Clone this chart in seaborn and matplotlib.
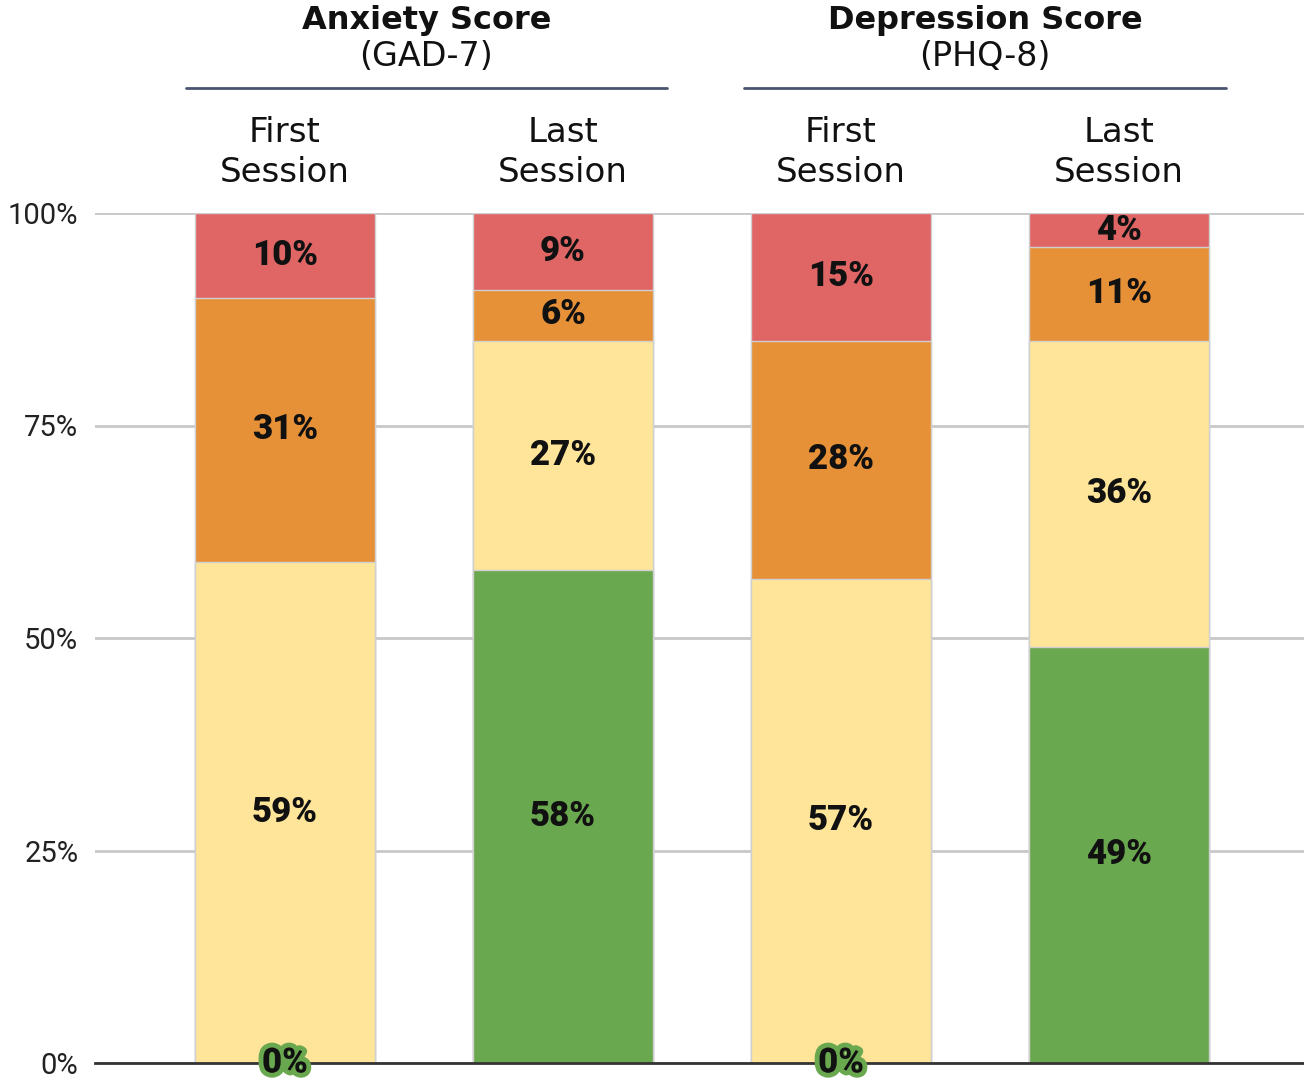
import matplotlib
matplotlib.use("Agg")
import matplotlib.pyplot as plt
import matplotlib.patheffects as pe
import numpy as np
import pandas as pd
import seaborn as sns

# data -------------------------------------------------------------------
bars = ["Anxiety First", "Anxiety Last", "Depression First", "Depression Last"]
session_labels = ["First\nSession", "Last\nSession", "First\nSession", "Last\nSession"]
groups = ["Anxiety Score", "Depression Score"]
group_subtitles = ["(GAD-7)", "(PHQ-8)"]

# stacked from bottom to top
minimal = [0, 58, 0, 49]
mild = [59, 27, 57, 36]
moderate = [31, 6, 28, 11]
severe = [10, 9, 15, 4]

levels = ["minimal", "mild", "moderate", "severe"]
colors = {"minimal": "#6AA84F", "mild": "#FFE599", "moderate": "#E69138", "severe": "#E06666"}

df = pd.DataFrame({"bar": bars, "minimal": minimal, "mild": mild,
                   "moderate": moderate, "severe": severe})

sns.set_theme(style="white")
plt.rcParams["font.family"] = ["DejaVu Sans"]

fig = plt.figure(figsize=(13.04, 10.81), dpi=100)
ax = fig.add_axes([95 / 1304, 18 / 1081, 1 - 95 / 1304, 850 / 1081])

# draw cumulative totals from top layer down so each one covers the next
cum = df[levels].cumsum(axis=1)
for lvl in reversed(levels):
    sns.barplot(x=df["bar"], y=cum[lvl], order=bars, color=colors[lvl],
                width=0.65, edgecolor="#d0d0d0", linewidth=1, saturation=1,
                ax=ax, zorder=3)

ax.set_ylim(0, 100)
ax.set_xlim(-0.683, 3.665)
ax.set_yticks([0, 25, 50, 75, 100])
ax.set_yticklabels(["0%", "25%", "50%", "75%", "100%"], fontsize=21,
                   family="Roboto", color="#222222")
ax.tick_params(axis="y", length=0, pad=12)
ax.grid(axis="y", color="#c8c8c8", linewidth=2, zorder=0)
ax.set_axisbelow(True)
for s in ["left", "right", "top"]:
    ax.spines[s].set_visible(False)
ax.spines["bottom"].set_color("#333333")
ax.spines["bottom"].set_linewidth(2)
ax.spines["bottom"].set_zorder(4)
ax.set_xlabel("")
ax.set_ylabel("")

# session labels on top
ax.xaxis.tick_top()
ax.set_xticks(range(len(bars)))
ax.set_xticklabels(session_labels, fontsize=24.5, color="#111111", linespacing=1.27)
ax.tick_params(axis="x", length=0, pad=17)

# segment labels
for i in range(len(bars)):
    base = 0
    for lvl in levels:
        v = df.loc[i, lvl]
        if v == 0:
            ax.text(i, 0, f"{v}%", ha="center", va="center", fontsize=25,
                    fontweight="heavy", family="Roboto", color="#111111", zorder=6,
                    clip_on=False,
                    path_effects=[pe.withStroke(linewidth=7, foreground=colors[lvl])])
        else:
            ax.text(i, base + v / 2, f"{v}%", ha="center", va="center", fontsize=25,
                    fontweight="heavy", family="Roboto", color="#111111", zorder=6)
        base += v

# group headers
trans = ax.get_xaxis_transform()
spans = [(-0.356, 1.374), (1.651, 3.385)]
for (x0, x1), title, sub in zip(spans, groups, group_subtitles):
    xc = (x0 + x1) / 2
    ax.plot([x0, x1], [1.147, 1.147], transform=trans, color="#4a5470",
            linewidth=2, clip_on=False)
    ax.text(xc, 1.227, title, transform=trans, ha="center", va="center",
            fontsize=23, fontweight="bold", color="#111111")
    ax.text(xc, 1.184, sub, transform=trans, ha="center", va="center",
            fontsize=24, color="#111111")

fig.savefig("out.png", dpi=100)
